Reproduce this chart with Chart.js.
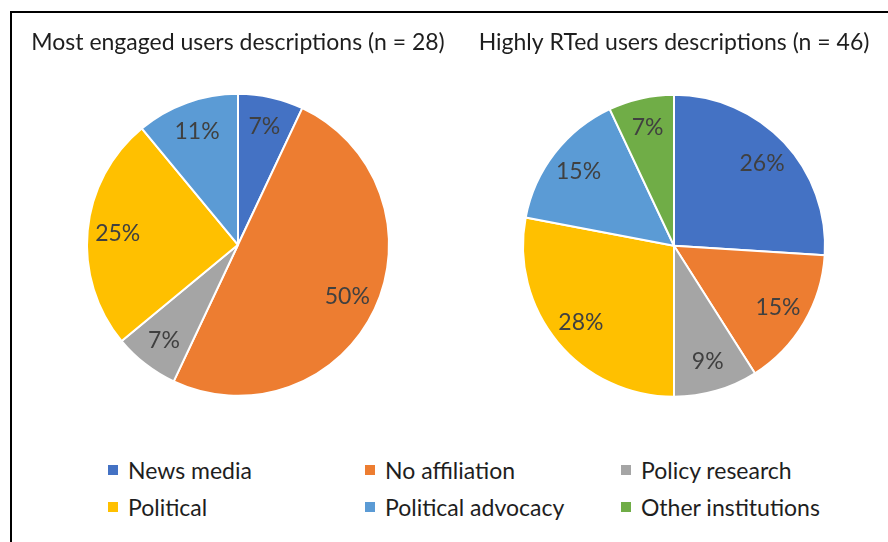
<!DOCTYPE html>
<html>
<head>
<meta charset="utf-8">
<script src="https://cdn.jsdelivr.net/npm/chart.js@4.4.1/dist/chart.umd.min.js"></script>
<style>
  html, body { margin: 0; padding: 0; background: #fff; }
  body { width: 888px; height: 542px; position: relative; overflow: hidden; font-family: Lato, 'Noto Sans', sans-serif; }
  #frame { position: absolute; left: 10px; top: 11px; width: 900px; height: 560px; border: 2px solid #000; box-sizing: border-box; }
  #pieLeft { position: absolute; left: 0; top: 0; }
  #pieRight { position: absolute; left: 476px; top: 0; }
  #legend { position: absolute; left: 108px; top: 456px; display: grid; grid-template-columns: 257px 256px 240px; row-gap: 10px; }
  .item { display: flex; align-items: center; font-size: 23px; color: #1e1e1e; height: 27px; white-space: nowrap; }
  .swatch { width: 10px; height: 10px; margin-right: 10px; }
</style>
</head>
<body>
<div id="frame"></div>
<canvas id="pieLeft" width="476" height="430"></canvas>
<canvas id="pieRight" width="396" height="430"></canvas>
<div id="legend"></div>

<script>
const categories = ['News media', 'No affiliation', 'Policy research', 'Political', 'Political advocacy', 'Other institutions'];
const colors = ['#4472C4', '#ED7D31', '#A5A5A5', '#FFC000', '#5B9BD5', '#70AD47'];

// percentage shares, clockwise from 12 o'clock
const engagedShares = [7, 50, 7, 25, 11, 0];
const rtedShares = [26, 15, 9, 28, 15, 7];

const titleEngaged = 'Most engaged users descriptions (n = 28)';
const titleRted = 'Highly RTed users descriptions (n = 46)';

// draws "NN%" inside each slice, at ~80% of the radius
const sliceLabels = {
    id: 'sliceLabels',
    afterDatasetsDraw(chart) {
        const ctx = chart.ctx;
        const meta = chart.getDatasetMeta(0);
        const values = chart.data.datasets[0].data;
        ctx.save();
        ctx.font = '23px Lato, "Noto Sans", sans-serif';
        ctx.fillStyle = '#404040';
        ctx.textAlign = 'center';
        ctx.textBaseline = 'middle';
        meta.data.forEach((arc, i) => {
            if (!values[i]) return;
            const { x, y, startAngle, endAngle, outerRadius } = arc.getProps(['x', 'y', 'startAngle', 'endAngle', 'outerRadius'], true);
            const mid = (startAngle + endAngle) / 2;
            const r = outerRadius * 0.8;
            ctx.fillText(values[i] + '%', x + Math.cos(mid) * r, y + Math.sin(mid) * r);
        });
        ctx.restore();
    }
};

function make_pie(canvas_id, title, shares, bottom_pad) {
    const ctx = document.getElementById(canvas_id).getContext('2d');
    return new Chart(ctx, {
        type: 'pie',
        data: {
            labels: categories,
            datasets: [{ data: shares, backgroundColor: colors, borderColor: '#ffffff', borderWidth: 2, radius: 151 }]
        },
        options: {
            responsive: false,
            animation: false,
            layout: { padding: { bottom: bottom_pad } },
            plugins: {
                legend: { display: false },
                tooltip: { enabled: false },
                title: {
                    display: true,
                    text: title,
                    color: '#1e1e1e',
                    font: { family: 'Lato', size: 23, weight: 'normal' },
                    padding: { top: 29, bottom: 10 }
                }
            }
        },
        plugins: [sliceLabels]
    });
}

make_pie('pieLeft', titleEngaged, engagedShares, 7);
make_pie('pieRight', titleRted, rtedShares, 5);

// legend, three columns by two rows
const legend = document.getElementById('legend');
categories.forEach((name, i) => {
    const item = document.createElement('div');
    item.className = 'item';
    item.innerHTML = `<span class="swatch" style="background:${colors[i]}"></span><span>${name}</span>`;
    legend.appendChild(item);
});
</script>
</body>
</html>
